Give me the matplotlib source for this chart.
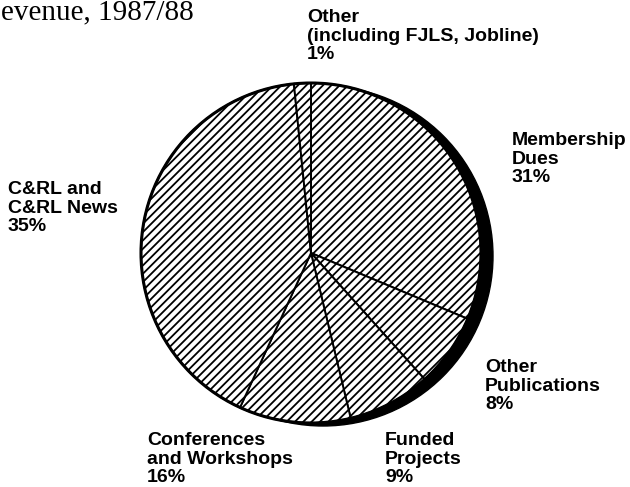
import matplotlib.pyplot as plt
from matplotlib.patches import Circle

# slices, clockwise from 12 o'clock
labels = ["Membership\nDues", "Other\nPublications", "Funded\nProjects",
          "Conferences\nand Workshops", "C&RL and\nC&RL News",
          "Other\n(including FJLS, Jobline)"]
pct_text = [31, 8, 9, 16, 35, 1]
# angular share of each wedge as drawn in the original figure
drawn_share = [31.3, 7.0, 7.9, 10.6, 41.5, 1.6]

plt.rcParams['hatch.linewidth'] = 1.3

W, H = 630, 487
fig = plt.figure(figsize=(W / 100, H / 100), dpi=100)
ax = fig.add_axes([0, 0, 1, 1])

cx, cy, r = 311, H - 253, 170

# drop shadow
ax.add_patch(Circle((cx + 12, cy - 3), r, color='black', zorder=1))

wedges, _ = ax.pie(drawn_share, center=(cx, cy), radius=r, startangle=90,
                   counterclock=False, frame=True,
                   wedgeprops=dict(facecolor='white', edgecolor='black',
                                   linewidth=1.4, hatch='////', zorder=2))
ax.set_xlim(0, W)
ax.set_ylim(0, H)
ax.set_aspect('equal')
ax.axis('off')
ax.add_patch(Circle((cx, cy), r, fill=False, edgecolor='black', lw=2.2, zorder=3))

# label positions (top-left of text block, pixels)
label_pos = [(512, 132), (485, 359), (385, 432), (147, 432), (8, 181), (307, 9)]
for lab, p, (x, y) in zip(labels, pct_text, label_pos):
    ax.text(x, H - y, f"{lab}\n{p}%", ha='left', va='top', fontsize=14,
            fontweight='bold', family='Liberation Sans', linespacing=1.12)

fig.text(1 / W, 1 - 19 / H, "evenue, 1987/88", ha='left', va='baseline',
         fontsize=21, family='Liberation Serif')

fig.savefig('out.png', dpi=100)
